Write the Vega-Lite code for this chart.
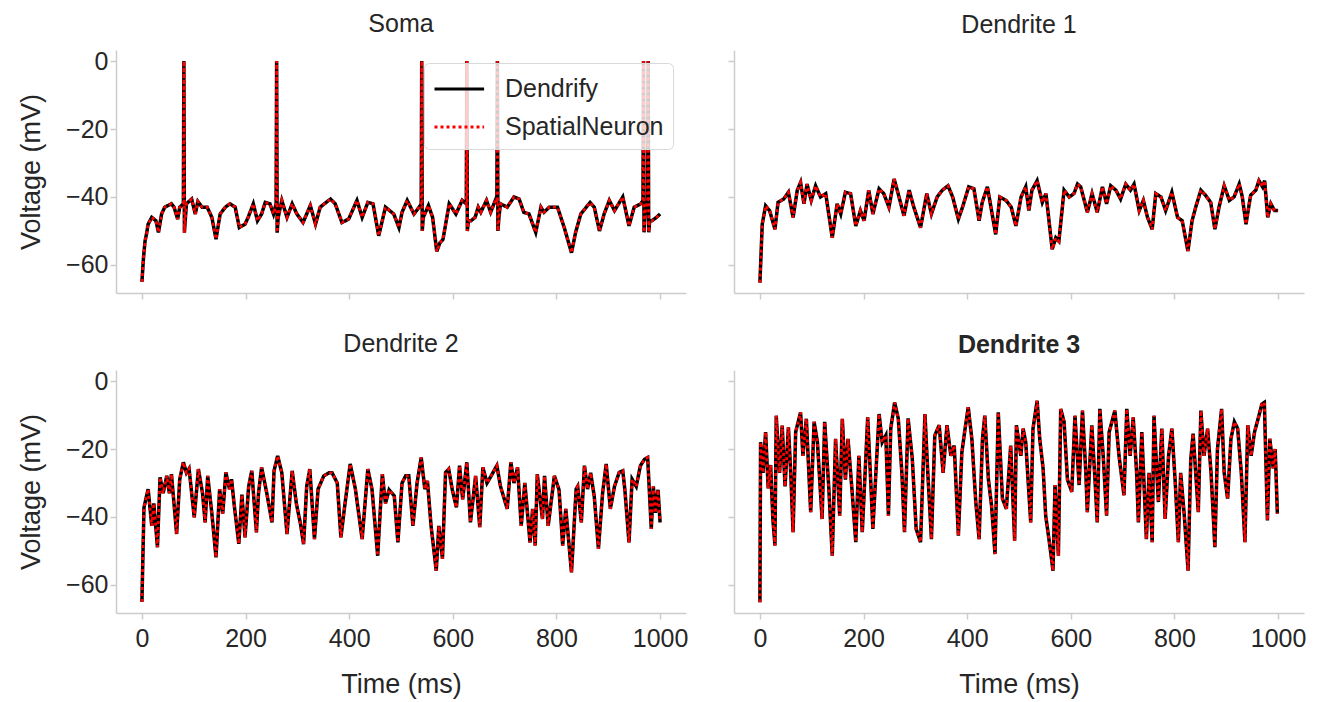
{
  "$schema": "https://vega.github.io/schema/vega-lite/v6.json",
  "padding": {"left": 17, "top": 12, "right": 5, "bottom": 5},
  "background": "white",
  "data": {"values": [
    {"p":"Soma","t":0,"v":-65},{"p":"Soma","t":3,"v":-58},{"p":"Soma","t":6,"v":-53},{"p":"Soma","t":9,"v":-50.8},{"p":"Soma","t":12,"v":-48},{"p":"Soma","t":19,"v":-46},{"p":"Soma","t":27,"v":-47},{"p":"Soma","t":32,"v":-50.4},{"p":"Soma","t":38,"v":-45},{"p":"Soma","t":44,"v":-43},{"p":"Soma","t":57,"v":-42},{"p":"Soma","t":62,"v":-43},{"p":"Soma","t":69,"v":-46.5},{"p":"Soma","t":73,"v":-43},{"p":"Soma","t":80,"v":-42},{"p":"Soma","t":81,"v":0},{"p":"Soma","t":82,"v":-50.5},{"p":"Soma","t":84,"v":-46},{"p":"Soma","t":86,"v":-42},{"p":"Soma","t":96,"v":-40.6},{"p":"Soma","t":103,"v":-45},{"p":"Soma","t":108,"v":-41.3},{"p":"Soma","t":116,"v":-43},{"p":"Soma","t":126,"v":-43},{"p":"Soma","t":135,"v":-46},{"p":"Soma","t":143,"v":-52.4},{"p":"Soma","t":151,"v":-45},{"p":"Soma","t":161,"v":-43},{"p":"Soma","t":170,"v":-42},{"p":"Soma","t":180,"v":-43},{"p":"Soma","t":188,"v":-49},{"p":"Soma","t":199,"v":-48},{"p":"Soma","t":205,"v":-46},{"p":"Soma","t":215,"v":-42},{"p":"Soma","t":223,"v":-47},{"p":"Soma","t":231,"v":-45},{"p":"Soma","t":238,"v":-41.6},{"p":"Soma","t":247,"v":-42},{"p":"Soma","t":254,"v":-45},{"p":"Soma","t":259,"v":-42},{"p":"Soma","t":260,"v":0},{"p":"Soma","t":261,"v":-50.5},{"p":"Soma","t":263,"v":-46},{"p":"Soma","t":270,"v":-41},{"p":"Soma","t":280,"v":-46},{"p":"Soma","t":290,"v":-42},{"p":"Soma","t":299,"v":-45},{"p":"Soma","t":311,"v":-47.5},{"p":"Soma","t":325,"v":-42.5},{"p":"Soma","t":335,"v":-48},{"p":"Soma","t":344,"v":-43},{"p":"Soma","t":364,"v":-40.6},{"p":"Soma","t":373,"v":-42},{"p":"Soma","t":386,"v":-47.5},{"p":"Soma","t":399,"v":-46.5},{"p":"Soma","t":415,"v":-41},{"p":"Soma","t":425,"v":-46},{"p":"Soma","t":436,"v":-41.6},{"p":"Soma","t":446,"v":-42},{"p":"Soma","t":457,"v":-51.4},{"p":"Soma","t":470,"v":-43},{"p":"Soma","t":486,"v":-45},{"p":"Soma","t":496,"v":-49},{"p":"Soma","t":502,"v":-44.5},{"p":"Soma","t":512,"v":-41},{"p":"Soma","t":525,"v":-45},{"p":"Soma","t":535,"v":-43},{"p":"Soma","t":539,"v":-42},{"p":"Soma","t":540,"v":0},{"p":"Soma","t":541,"v":-50},{"p":"Soma","t":543,"v":-46},{"p":"Soma","t":553,"v":-42.5},{"p":"Soma","t":561,"v":-46},{"p":"Soma","t":569,"v":-56},{"p":"Soma","t":575,"v":-53.5},{"p":"Soma","t":581,"v":-52.5},{"p":"Soma","t":593,"v":-42},{"p":"Soma","t":606,"v":-45},{"p":"Soma","t":618,"v":-41},{"p":"Soma","t":626,"v":-42},{"p":"Soma","t":627,"v":0},{"p":"Soma","t":628,"v":-50},{"p":"Soma","t":630,"v":-47},{"p":"Soma","t":635,"v":-47},{"p":"Soma","t":643,"v":-46},{"p":"Soma","t":649,"v":-43},{"p":"Soma","t":654,"v":-44.5},{"p":"Soma","t":665,"v":-41},{"p":"Soma","t":673,"v":-44.5},{"p":"Soma","t":683,"v":-40.6},{"p":"Soma","t":685,"v":-41},{"p":"Soma","t":686,"v":0},{"p":"Soma","t":687,"v":-50},{"p":"Soma","t":689,"v":-46},{"p":"Soma","t":692,"v":-42},{"p":"Soma","t":705,"v":-43},{"p":"Soma","t":718,"v":-40},{"p":"Soma","t":728,"v":-40.6},{"p":"Soma","t":737,"v":-44.5},{"p":"Soma","t":747,"v":-45},{"p":"Soma","t":760,"v":-50.4},{"p":"Soma","t":770,"v":-43},{"p":"Soma","t":776,"v":-44.5},{"p":"Soma","t":786,"v":-43},{"p":"Soma","t":802,"v":-43},{"p":"Soma","t":815,"v":-49},{"p":"Soma","t":829,"v":-56.4},{"p":"Soma","t":837,"v":-50.4},{"p":"Soma","t":847,"v":-45},{"p":"Soma","t":865,"v":-41.6},{"p":"Soma","t":873,"v":-43},{"p":"Soma","t":883,"v":-50},{"p":"Soma","t":892,"v":-45},{"p":"Soma","t":902,"v":-41},{"p":"Soma","t":912,"v":-44},{"p":"Soma","t":928,"v":-40},{"p":"Soma","t":940,"v":-48.5},{"p":"Soma","t":950,"v":-43},{"p":"Soma","t":963,"v":-42},{"p":"Soma","t":967,"v":-41},{"p":"Soma","t":968,"v":0},{"p":"Soma","t":969,"v":-50.4},{"p":"Soma","t":971,"v":-45},{"p":"Soma","t":974,"v":-42},{"p":"Soma","t":976,"v":-41},{"p":"Soma","t":977,"v":0},{"p":"Soma","t":978,"v":-50.4},{"p":"Soma","t":980,"v":-47},{"p":"Soma","t":984,"v":-47},{"p":"Soma","t":993,"v":-46},{"p":"Soma","t":1000,"v":-45},

    {"p":"D1","t":0,"v":-65.2},{"p":"D1","t":4.5,"v":-48},{"p":"D1","t":11,"v":-42.6},{"p":"D1","t":18.7,"v":-44},{"p":"D1","t":29,"v":-49.5},{"p":"D1","t":35,"v":-41.6},{"p":"D1","t":46,"v":-40.6},{"p":"D1","t":55,"v":-38.6},{"p":"D1","t":64,"v":-46},{"p":"D1","t":72,"v":-38.1},{"p":"D1","t":78.5,"v":-35.7},{"p":"D1","t":85,"v":-42},{"p":"D1","t":91,"v":-36.2},{"p":"D1","t":99,"v":-41},{"p":"D1","t":107.5,"v":-36.7},{"p":"D1","t":117,"v":-40},{"p":"D1","t":127,"v":-39},{"p":"D1","t":139.6,"v":-52},{"p":"D1","t":149,"v":-42},{"p":"D1","t":156,"v":-45},{"p":"D1","t":165,"v":-38.6},{"p":"D1","t":175,"v":-39},{"p":"D1","t":185,"v":-48.5},{"p":"D1","t":194,"v":-44},{"p":"D1","t":201,"v":-47},{"p":"D1","t":210,"v":-38},{"p":"D1","t":218,"v":-45},{"p":"D1","t":230,"v":-37.6},{"p":"D1","t":239,"v":-39},{"p":"D1","t":249,"v":-43},{"p":"D1","t":259,"v":-34.7},{"p":"D1","t":265,"v":-38},{"p":"D1","t":278,"v":-45.5},{"p":"D1","t":288,"v":-38},{"p":"D1","t":297,"v":-43},{"p":"D1","t":310,"v":-49},{"p":"D1","t":322,"v":-39},{"p":"D1","t":331,"v":-45},{"p":"D1","t":342,"v":-40},{"p":"D1","t":352,"v":-38},{"p":"D1","t":363,"v":-36.7},{"p":"D1","t":372,"v":-40},{"p":"D1","t":383,"v":-46.5},{"p":"D1","t":391,"v":-43},{"p":"D1","t":403,"v":-37},{"p":"D1","t":413,"v":-37.6},{"p":"D1","t":423,"v":-47},{"p":"D1","t":429,"v":-41.6},{"p":"D1","t":439,"v":-37},{"p":"D1","t":455,"v":-51},{"p":"D1","t":463,"v":-40},{"p":"D1","t":475,"v":-41},{"p":"D1","t":485,"v":-43},{"p":"D1","t":494,"v":-48.5},{"p":"D1","t":504,"v":-40},{"p":"D1","t":513,"v":-37},{"p":"D1","t":519,"v":-44},{"p":"D1","t":525,"v":-38},{"p":"D1","t":535,"v":-35.2},{"p":"D1","t":545,"v":-41.6},{"p":"D1","t":552,"v":-39},{"p":"D1","t":564,"v":-55.4},{"p":"D1","t":571,"v":-52},{"p":"D1","t":577,"v":-53},{"p":"D1","t":587,"v":-38},{"p":"D1","t":597,"v":-40},{"p":"D1","t":606,"v":-39},{"p":"D1","t":613,"v":-36.2},{"p":"D1","t":619,"v":-37},{"p":"D1","t":632,"v":-44.5},{"p":"D1","t":641,"v":-39},{"p":"D1","t":651,"v":-44.5},{"p":"D1","t":661,"v":-37},{"p":"D1","t":669,"v":-42},{"p":"D1","t":677,"v":-36.7},{"p":"D1","t":687,"v":-38},{"p":"D1","t":696,"v":-40.6},{"p":"D1","t":706,"v":-36.2},{"p":"D1","t":715,"v":-38},{"p":"D1","t":722,"v":-36.2},{"p":"D1","t":732,"v":-44},{"p":"D1","t":740,"v":-41},{"p":"D1","t":748,"v":-46},{"p":"D1","t":757,"v":-49.5},{"p":"D1","t":764,"v":-39},{"p":"D1","t":774,"v":-40},{"p":"D1","t":783,"v":-44},{"p":"D1","t":795,"v":-38.6},{"p":"D1","t":806,"v":-46},{"p":"D1","t":815,"v":-47},{"p":"D1","t":826,"v":-55.9},{"p":"D1","t":834,"v":-47},{"p":"D1","t":841,"v":-43},{"p":"D1","t":851,"v":-38},{"p":"D1","t":860,"v":-39.5},{"p":"D1","t":870,"v":-41.6},{"p":"D1","t":878,"v":-49.5},{"p":"D1","t":886,"v":-43},{"p":"D1","t":896,"v":-36.7},{"p":"D1","t":906,"v":-41},{"p":"D1","t":915,"v":-40},{"p":"D1","t":925,"v":-36.2},{"p":"D1","t":931,"v":-40},{"p":"D1","t":938,"v":-48},{"p":"D1","t":947,"v":-39.5},{"p":"D1","t":957,"v":-38},{"p":"D1","t":963,"v":-35.2},{"p":"D1","t":970,"v":-37},{"p":"D1","t":974,"v":-35.2},{"p":"D1","t":980,"v":-46},{"p":"D1","t":986,"v":-42},{"p":"D1","t":993,"v":-44},{"p":"D1","t":1000,"v":-44},

    {"p":"D2","t":0,"v":-65},{"p":"D2","t":4,"v":-37.2},{"p":"D2","t":12,"v":-31.8},{"p":"D2","t":19,"v":-42.6},{"p":"D2","t":23,"v":-36},{"p":"D2","t":30,"v":-48.9},{"p":"D2","t":35,"v":-28.3},{"p":"D2","t":41,"v":-33},{"p":"D2","t":48,"v":-27.9},{"p":"D2","t":53,"v":-33},{"p":"D2","t":57,"v":-27.4},{"p":"D2","t":67,"v":-45},{"p":"D2","t":73,"v":-28.9},{"p":"D2","t":80,"v":-23.9},{"p":"D2","t":86,"v":-27},{"p":"D2","t":91,"v":-25.8},{"p":"D2","t":101,"v":-40.1},{"p":"D2","t":109,"v":-25.9},{"p":"D2","t":117,"v":-33},{"p":"D2","t":122,"v":-41.6},{"p":"D2","t":127,"v":-27.9},{"p":"D2","t":135,"v":-39},{"p":"D2","t":143,"v":-51.9},{"p":"D2","t":150,"v":-31.8},{"p":"D2","t":156,"v":-39},{"p":"D2","t":162,"v":-26.9},{"p":"D2","t":169,"v":-31.8},{"p":"D2","t":173,"v":-28.9},{"p":"D2","t":178,"v":-36.3},{"p":"D2","t":187,"v":-47.9},{"p":"D2","t":193,"v":-33.4},{"p":"D2","t":199,"v":-46},{"p":"D2","t":206,"v":-31},{"p":"D2","t":212,"v":-26.4},{"p":"D2","t":221,"v":-44.5},{"p":"D2","t":225,"v":-33},{"p":"D2","t":231,"v":-25.4},{"p":"D2","t":241,"v":-33},{"p":"D2","t":251,"v":-41.6},{"p":"D2","t":255,"v":-26.4},{"p":"D2","t":262,"v":-22},{"p":"D2","t":270,"v":-27},{"p":"D2","t":280,"v":-45},{"p":"D2","t":290,"v":-26.4},{"p":"D2","t":298,"v":-36},{"p":"D2","t":306,"v":-42},{"p":"D2","t":312,"v":-48},{"p":"D2","t":318,"v":-31},{"p":"D2","t":324,"v":-25.9},{"p":"D2","t":333,"v":-46.5},{"p":"D2","t":340,"v":-31.8},{"p":"D2","t":351,"v":-27.9},{"p":"D2","t":361,"v":-27},{"p":"D2","t":367,"v":-27},{"p":"D2","t":377,"v":-30},{"p":"D2","t":384,"v":-46},{"p":"D2","t":392,"v":-36},{"p":"D2","t":402,"v":-24.4},{"p":"D2","t":412,"v":-31.8},{"p":"D2","t":425,"v":-46.5},{"p":"D2","t":436,"v":-25.9},{"p":"D2","t":444,"v":-31.8},{"p":"D2","t":455,"v":-51.4},{"p":"D2","t":464,"v":-27.4},{"p":"D2","t":470,"v":-36},{"p":"D2","t":477,"v":-32},{"p":"D2","t":487,"v":-33.8},{"p":"D2","t":494,"v":-47.5},{"p":"D2","t":502,"v":-30},{"p":"D2","t":509,"v":-27.9},{"p":"D2","t":515,"v":-27.9},{"p":"D2","t":523,"v":-42.6},{"p":"D2","t":531,"v":-30},{"p":"D2","t":539,"v":-22.5},{"p":"D2","t":546,"v":-31.8},{"p":"D2","t":551,"v":-29.4},{"p":"D2","t":558,"v":-42.6},{"p":"D2","t":568,"v":-55.8},{"p":"D2","t":573,"v":-42.6},{"p":"D2","t":580,"v":-52.3},{"p":"D2","t":586,"v":-26.9},{"p":"D2","t":592,"v":-25.9},{"p":"D2","t":599,"v":-32},{"p":"D2","t":607,"v":-37.2},{"p":"D2","t":613,"v":-24.9},{"p":"D2","t":619,"v":-34.8},{"p":"D2","t":627,"v":-23.9},{"p":"D2","t":634,"v":-41.6},{"p":"D2","t":644,"v":-27.9},{"p":"D2","t":652,"v":-43},{"p":"D2","t":658,"v":-25.4},{"p":"D2","t":666,"v":-30},{"p":"D2","t":674,"v":-27.9},{"p":"D2","t":685,"v":-24.9},{"p":"D2","t":692,"v":-31},{"p":"D2","t":705,"v":-37.6},{"p":"D2","t":712,"v":-23.9},{"p":"D2","t":718,"v":-30},{"p":"D2","t":725,"v":-25.4},{"p":"D2","t":732,"v":-42.6},{"p":"D2","t":739,"v":-30},{"p":"D2","t":749,"v":-47.5},{"p":"D2","t":754,"v":-37.6},{"p":"D2","t":759,"v":-48.4},{"p":"D2","t":763,"v":-27.4},{"p":"D2","t":773,"v":-40.6},{"p":"D2","t":777,"v":-27.9},{"p":"D2","t":784,"v":-42.6},{"p":"D2","t":796,"v":-27.9},{"p":"D2","t":805,"v":-32},{"p":"D2","t":812,"v":-48.4},{"p":"D2","t":818,"v":-37.6},{"p":"D2","t":829,"v":-56.3},{"p":"D2","t":838,"v":-31.8},{"p":"D2","t":841,"v":-31},{"p":"D2","t":848,"v":-41.6},{"p":"D2","t":854,"v":-24.9},{"p":"D2","t":860,"v":-31.8},{"p":"D2","t":866,"v":-27},{"p":"D2","t":873,"v":-34},{"p":"D2","t":881,"v":-49.4},{"p":"D2","t":889,"v":-33},{"p":"D2","t":896,"v":-24.4},{"p":"D2","t":904,"v":-37.6},{"p":"D2","t":912,"v":-31},{"p":"D2","t":921,"v":-26.9},{"p":"D2","t":928,"v":-26.4},{"p":"D2","t":932,"v":-32},{"p":"D2","t":940,"v":-47.5},{"p":"D2","t":946,"v":-28.9},{"p":"D2","t":954,"v":-31},{"p":"D2","t":962,"v":-24.9},{"p":"D2","t":970,"v":-23},{"p":"D2","t":976,"v":-22.5},{"p":"D2","t":983,"v":-43.5},{"p":"D2","t":987,"v":-31},{"p":"D2","t":991,"v":-38.8},{"p":"D2","t":996,"v":-32},{"p":"D2","t":1000,"v":-41.6},

    {"p":"D3","t":0,"v":-65.1},{"p":"D3","t":1.3,"v":-18},{"p":"D3","t":6,"v":-27},{"p":"D3","t":11,"v":-15},{"p":"D3","t":16,"v":-31.6},{"p":"D3","t":20.7,"v":-24.7},{"p":"D3","t":25,"v":-40.6},{"p":"D3","t":29,"v":-48.4},{"p":"D3","t":31.5,"v":-10.2},{"p":"D3","t":38,"v":-27},{"p":"D3","t":43,"v":-13.1},{"p":"D3","t":48.5,"v":-31},{"p":"D3","t":55,"v":-13.6},{"p":"D3","t":59.5,"v":-27},{"p":"D3","t":64,"v":-44.5},{"p":"D3","t":69,"v":-15},{"p":"D3","t":78.5,"v":-9.2},{"p":"D3","t":83,"v":-22},{"p":"D3","t":89.6,"v":-11.1},{"p":"D3","t":98,"v":-38.6},{"p":"D3","t":104.6,"v":-12},{"p":"D3","t":111,"v":-18},{"p":"D3","t":120,"v":-40.6},{"p":"D3","t":125,"v":-12},{"p":"D3","t":133,"v":-31.6},{"p":"D3","t":139.6,"v":-51.4},{"p":"D3","t":146,"v":-17},{"p":"D3","t":154,"v":-39.6},{"p":"D3","t":159,"v":-11.1},{"p":"D3","t":165,"v":-29},{"p":"D3","t":170,"v":-17},{"p":"D3","t":178,"v":-32.6},{"p":"D3","t":185,"v":-47.4},{"p":"D3","t":191,"v":-22},{"p":"D3","t":197.5,"v":-44.5},{"p":"D3","t":203,"v":-27},{"p":"D3","t":208,"v":-10.7},{"p":"D3","t":214,"v":-30},{"p":"D3","t":218,"v":-43.5},{"p":"D3","t":225,"v":-23.7},{"p":"D3","t":230,"v":-9.7},{"p":"D3","t":236,"v":-18},{"p":"D3","t":243,"v":-16},{"p":"D3","t":248,"v":-39.6},{"p":"D3","t":252.5,"v":-14},{"p":"D3","t":260,"v":-6.3},{"p":"D3","t":267,"v":-11},{"p":"D3","t":274,"v":-27},{"p":"D3","t":279,"v":-44.5},{"p":"D3","t":286,"v":-11},{"p":"D3","t":294,"v":-22.7},{"p":"D3","t":301.5,"v":-43.5},{"p":"D3","t":310,"v":-47.4},{"p":"D3","t":318.5,"v":-9.7},{"p":"D3","t":324,"v":-27},{"p":"D3","t":331,"v":-46.5},{"p":"D3","t":337.5,"v":-16},{"p":"D3","t":346,"v":-13},{"p":"D3","t":353.5,"v":-27},{"p":"D3","t":361,"v":-13},{"p":"D3","t":368.5,"v":-22},{"p":"D3","t":375,"v":-19},{"p":"D3","t":383,"v":-45.5},{"p":"D3","t":389.7,"v":-21},{"p":"D3","t":396,"v":-14},{"p":"D3","t":402,"v":-7.7},{"p":"D3","t":409,"v":-17},{"p":"D3","t":416.6,"v":-35.6},{"p":"D3","t":423,"v":-46.5},{"p":"D3","t":429.5,"v":-17},{"p":"D3","t":434,"v":-10.2},{"p":"D3","t":441,"v":-29},{"p":"D3","t":447,"v":-36.6},{"p":"D3","t":453.7,"v":-50.9},{"p":"D3","t":460,"v":-9.2},{"p":"D3","t":468,"v":-34.6},{"p":"D3","t":475.6,"v":-37.6},{"p":"D3","t":484,"v":-19},{"p":"D3","t":491.6,"v":-47},{"p":"D3","t":495,"v":-13},{"p":"D3","t":503.6,"v":-22},{"p":"D3","t":508,"v":-14},{"p":"D3","t":513,"v":-18},{"p":"D3","t":522.6,"v":-41.6},{"p":"D3","t":527,"v":-14},{"p":"D3","t":535,"v":-5.8},{"p":"D3","t":540,"v":-17},{"p":"D3","t":546.5,"v":-25.7},{"p":"D3","t":551.5,"v":-39.6},{"p":"D3","t":559.5,"v":-48.4},{"p":"D3","t":565.6,"v":-55.8},{"p":"D3","t":569.5,"v":-30.6},{"p":"D3","t":576,"v":-51.4},{"p":"D3","t":580.5,"v":-8.2},{"p":"D3","t":587,"v":-12},{"p":"D3","t":593.5,"v":-29},{"p":"D3","t":601.8,"v":-32.6},{"p":"D3","t":608,"v":-10.2},{"p":"D3","t":616,"v":-30.6},{"p":"D3","t":622.5,"v":-8.7},{"p":"D3","t":629,"v":-27},{"p":"D3","t":631.8,"v":-38.6},{"p":"D3","t":640.5,"v":-13},{"p":"D3","t":647,"v":-30},{"p":"D3","t":651,"v":-41.6},{"p":"D3","t":656,"v":-8.2},{"p":"D3","t":662.5,"v":-22},{"p":"D3","t":669,"v":-39.6},{"p":"D3","t":674,"v":-15},{"p":"D3","t":685,"v":-8.7},{"p":"D3","t":693,"v":-22},{"p":"D3","t":702.6,"v":-33.6},{"p":"D3","t":708,"v":-8.2},{"p":"D3","t":714.5,"v":-22},{"p":"D3","t":720.4,"v":-10.7},{"p":"D3","t":727,"v":-27},{"p":"D3","t":730.4,"v":-41.6},{"p":"D3","t":737,"v":-15},{"p":"D3","t":745.8,"v":-46.5},{"p":"D3","t":751,"v":-27},{"p":"D3","t":757,"v":-47.4},{"p":"D3","t":760.5,"v":-10.2},{"p":"D3","t":769,"v":-35.6},{"p":"D3","t":775.6,"v":-14},{"p":"D3","t":782,"v":-40.6},{"p":"D3","t":788.6,"v":-22},{"p":"D3","t":795,"v":-14},{"p":"D3","t":801.6,"v":-30},{"p":"D3","t":807.5,"v":-47.4},{"p":"D3","t":812,"v":-27},{"p":"D3","t":819,"v":-39.6},{"p":"D3","t":826.3,"v":-55.8},{"p":"D3","t":831.5,"v":-23},{"p":"D3","t":836,"v":-15.5},{"p":"D3","t":841,"v":-27},{"p":"D3","t":846,"v":-38.6},{"p":"D3","t":851,"v":-8.7},{"p":"D3","t":857,"v":-22},{"p":"D3","t":864,"v":-14},{"p":"D3","t":870.6,"v":-27},{"p":"D3","t":878,"v":-48.9},{"p":"D3","t":883,"v":-20},{"p":"D3","t":891,"v":-8.2},{"p":"D3","t":896,"v":-27},{"p":"D3","t":902.6,"v":-34.6},{"p":"D3","t":909,"v":-17},{"p":"D3","t":915.6,"v":-12},{"p":"D3","t":922,"v":-14},{"p":"D3","t":929,"v":-27},{"p":"D3","t":936,"v":-47.4},{"p":"D3","t":941.5,"v":-13},{"p":"D3","t":948,"v":-22},{"p":"D3","t":954.5,"v":-15},{"p":"D3","t":963,"v":-10.2},{"p":"D3","t":968.6,"v":-6.8},{"p":"D3","t":973.5,"v":-6.3},{"p":"D3","t":979.4,"v":-41},{"p":"D3","t":984,"v":-17},{"p":"D3","t":990.6,"v":-25.7},{"p":"D3","t":994.4,"v":-20},{"p":"D3","t":998.6,"v":-39}
  ]},
  "columns": 2,
  "spacing": {"row": 32, "column": 39},
  "resolve": {"legend": {"color": "independent", "strokeDash": "independent"}, "scale": {"color": "independent", "strokeDash": "independent"}},
  "concat": [
    {
      "title": {"text": "Soma"},
      "width": 570, "height": 243,
      "transform": [{"filter": "datum.p === 'Soma'"}],
      "encoding": {
        "x": {"field": "t", "type": "quantitative", "scale": {"domain": [-50, 1050], "nice": false, "zero": false}, "axis": {"values": [0, 200, 400, 600, 800, 1000], "labels": false, "title": null}},
        "y": {"field": "v", "type": "quantitative", "scale": {"domain": [-68.25, 3.25], "nice": false, "zero": false}, "axis": {"values": [-60, -40, -20, 0], "title": "Voltage (mV)"}}
      },
      "layer": [
        {"mark": {"type": "line", "strokeWidth": 3.5, "interpolate": "linear"},
         "encoding": {"color": {"datum": "Dendrify", "scale": {"domain": ["Dendrify", "SpatialNeuron"], "range": ["#000000", "#ff0000"]}, "legend": {"title": null}},
                      "strokeDash": {"datum": "Dendrify", "scale": {"domain": ["Dendrify", "SpatialNeuron"], "range": [[1, 0], [3, 3]]}, "legend": {"title": null}}}},
        {"mark": {"type": "line", "strokeWidth": 2.8, "interpolate": "linear"},
         "encoding": {"color": {"datum": "SpatialNeuron"}, "strokeDash": {"datum": "SpatialNeuron"}}}
      ]
    },
    {
      "title": {"text": "Dendrite 1"},
      "width": 570, "height": 243,
      "transform": [{"filter": "datum.p === 'D1'"}],
      "encoding": {
        "x": {"field": "t", "type": "quantitative", "scale": {"domain": [-50, 1050], "nice": false, "zero": false}, "axis": {"values": [0, 200, 400, 600, 800, 1000], "labels": false, "title": null}},
        "y": {"field": "v", "type": "quantitative", "scale": {"domain": [-68.25, 3.25], "nice": false, "zero": false}, "axis": {"values": [-60, -40, -20, 0], "labels": false, "title": null}}
      },
      "layer": [
        {"mark": {"type": "line", "strokeWidth": 3.5},
         "encoding": {"color": {"datum": "Dendrify", "scale": {"domain": ["Dendrify", "SpatialNeuron"], "range": ["#000000", "#ff0000"]}, "legend": null},
                      "strokeDash": {"datum": "Dendrify", "scale": {"domain": ["Dendrify", "SpatialNeuron"], "range": [[1, 0], [3, 3]]}, "legend": null}}},
        {"mark": {"type": "line", "strokeWidth": 2.8},
         "encoding": {"color": {"datum": "SpatialNeuron", "legend": null}, "strokeDash": {"datum": "SpatialNeuron", "legend": null}}}
      ]
    },
    {
      "title": {"text": "Dendrite 2"},
      "width": 570, "height": 243,
      "transform": [{"filter": "datum.p === 'D2'"}],
      "encoding": {
        "x": {"field": "t", "type": "quantitative", "scale": {"domain": [-50, 1050], "nice": false, "zero": false}, "axis": {"values": [0, 200, 400, 600, 800, 1000], "format": "d", "title": "Time (ms)"}},
        "y": {"field": "v", "type": "quantitative", "scale": {"domain": [-68.25, 3.25], "nice": false, "zero": false}, "axis": {"values": [-60, -40, -20, 0], "title": "Voltage (mV)"}}
      },
      "layer": [
        {"mark": {"type": "line", "strokeWidth": 3.5},
         "encoding": {"color": {"datum": "Dendrify", "scale": {"domain": ["Dendrify", "SpatialNeuron"], "range": ["#000000", "#ff0000"]}, "legend": null},
                      "strokeDash": {"datum": "Dendrify", "scale": {"domain": ["Dendrify", "SpatialNeuron"], "range": [[1, 0], [3, 3]]}, "legend": null}}},
        {"mark": {"type": "line", "strokeWidth": 2.8},
         "encoding": {"color": {"datum": "SpatialNeuron", "legend": null}, "strokeDash": {"datum": "SpatialNeuron", "legend": null}}}
      ]
    },
    {
      "title": {"text": "Dendrite 3", "fontWeight": "bold"},
      "width": 570, "height": 243,
      "transform": [{"filter": "datum.p === 'D3'"}],
      "encoding": {
        "x": {"field": "t", "type": "quantitative", "scale": {"domain": [-50, 1050], "nice": false, "zero": false}, "axis": {"values": [0, 200, 400, 600, 800, 1000], "format": "d", "title": "Time (ms)"}},
        "y": {"field": "v", "type": "quantitative", "scale": {"domain": [-68.25, 3.25], "nice": false, "zero": false}, "axis": {"values": [-60, -40, -20, 0], "labels": false, "title": null}}
      },
      "layer": [
        {"mark": {"type": "line", "strokeWidth": 3.5},
         "encoding": {"color": {"datum": "Dendrify", "scale": {"domain": ["Dendrify", "SpatialNeuron"], "range": ["#000000", "#ff0000"]}, "legend": null},
                      "strokeDash": {"datum": "Dendrify", "scale": {"domain": ["Dendrify", "SpatialNeuron"], "range": [[1, 0], [3, 3]]}, "legend": null}}},
        {"mark": {"type": "line", "strokeWidth": 2.8},
         "encoding": {"color": {"datum": "SpatialNeuron", "legend": null}, "strokeDash": {"datum": "SpatialNeuron", "legend": null}}}
      ]
    }
  ],
  "config": {
    "font": "Liberation Sans",
    "view": {"stroke": null},
    "axis": {"grid": false, "domainColor": "#cccccc", "domainWidth": 1.5, "tickColor": "#cccccc", "tickWidth": 1.5, "tickSize": 6, "labelColor": "#262626", "labelFontSize": 25, "labelFont": "Liberation Sans", "titleFontSize": 27, "titleFontWeight": "normal", "titleColor": "#262626", "titleFont": "Liberation Sans"},
    "axisY": {"titlePadding": 20, "labelPadding": 2},
    "axisX": {"titlePadding": 20, "labelPadding": 7},
    "title": {"fontSize": 25, "fontWeight": "normal", "font": "Liberation Sans", "color": "#262626", "offset": 12, "anchor": "middle"},
    "legend": {"orient": "top-right", "offset": 13, "labelFontSize": 25, "labelFont": "Liberation Sans", "labelColor": "#262626", "symbolType": "M-1,0H2.2", "symbolSize": 961, "symbolStrokeWidth": 3, "padding": 9, "cornerRadius": 5, "strokeColor": "#d9d9d9", "fillColor": "rgba(255,255,255,0.8)", "rowPadding": 8, "labelOffset": 38}
  }
}
